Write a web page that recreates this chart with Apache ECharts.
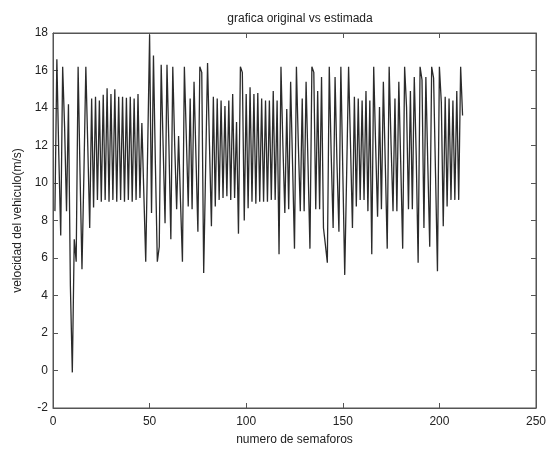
<!DOCTYPE html>
<html>
<head>
<meta charset="utf-8">
<script src="https://cdn.jsdelivr.net/npm/echarts@6/dist/echarts.min.js"></script>
<style>html,body{margin:0;padding:0;background:#fff}#c{width:549px;height:451px}</style>
</head>
<body>
<div id="c"></div>
<script>
// velocidad del vehiculo (m/s) for semaforo 1..212
var velocidad = [
  8.5, 16.6, 11.5, 7.2, 16.2, 13.0, 8.5, 14.2, 4.5, -0.1,
  7.0, 5.8, 16.2, 10.5, 5.4, 10.5, 16.2, 12.0, 7.6, 14.5,
  8.7, 14.6, 9.1, 14.4, 9.0, 14.7, 9.1, 15.05, 9.0, 14.75,
  9.1, 15.0, 9.0, 14.6, 9.1, 14.6, 9.0, 14.55, 9.1, 14.6,
  9.0, 14.5, 9.1, 14.75, 9.2, 13.2, 9.5, 5.8, 11.8, 17.9,
  8.4, 16.8, 11.0, 5.8, 6.6, 16.3, 12.0, 7.85, 16.3, 12.0,
  7.0, 16.2, 12.0, 8.6, 12.5, 9.0, 5.8, 16.2, 12.5, 8.75,
  14.5, 8.6, 15.4, 11.4, 7.4, 16.2, 15.9, 5.2, 10.8, 16.4,
  12.0, 7.7, 14.6, 8.75, 14.5, 9.1, 14.4, 9.2, 14.1, 9.3,
  14.4, 9.1, 14.75, 9.2, 13.25, 7.3, 16.2, 15.9, 8.0, 14.75,
  8.65, 15.1, 9.0, 14.75, 8.9, 14.8, 9.0, 14.5, 9.0, 14.4,
  9.0, 14.4, 9.1, 14.9, 9.1, 14.4, 6.2, 16.2, 12.0, 8.4,
  13.95, 8.6, 15.4, 11.0, 6.5, 16.2, 12.0, 8.5, 14.5, 8.5,
  15.4, 11.0, 6.5, 16.2, 15.9, 8.6, 14.9, 8.6, 15.65, 7.6,
  6.7, 5.75, 16.2, 11.5, 7.6, 15.65, 11.0, 7.4, 16.2, 16.1,
  5.1, 10.5, 16.2, 12.0, 7.6, 14.6, 8.75, 14.5, 9.1, 14.4,
  9.1, 14.9, 8.5, 14.4, 6.2, 16.2, 12.0, 8.2, 14.05, 8.6,
  15.4, 11.0, 6.5, 16.2, 12.0, 8.5, 14.5, 8.5, 15.4, 11.0,
  6.5, 16.2, 14.05, 8.6, 14.9, 8.6, 15.65, 11.5, 5.75, 16.2,
  15.5, 7.6, 15.65, 11.0, 6.6, 16.2, 15.6, 10.5, 5.3, 16.2,
  14.3, 7.7, 14.6, 8.75, 14.5, 9.1, 14.4, 9.1, 14.9, 9.1,
  16.2, 13.6
];
var semaforos = [];
for (var i = 0; i < velocidad.length; i++) semaforos.push(i + 1);
var xTicks = [0, 50, 100, 150, 200, 250];
var yTicks = [-2, 0, 2, 4, 6, 8, 10, 12, 14, 16, 18];

var titleText = 'grafica original vs estimada';
var xName = 'numero de semaforos';
var yName = 'velocidad del vehiculo(m/s)';

var seriesData = semaforos.map(function (x, i) { return [x, velocidad[i]]; });

var font = '"Liberation Sans", Arial, sans-serif';
var axisColor = '#555';
function tick() { return { show: true, inside: true, length: 5, lineStyle: { color: axisColor, width: 1 } }; }

var chart = echarts.init(document.getElementById('c'), null, { renderer: 'canvas' });
chart.setOption({
  animation: false,
  backgroundColor: '#fff',
  title: {
    text: titleText, left: 295, top: 8, textAlign: 'center',
    textStyle: { fontFamily: font, fontSize: 12, fontWeight: 'normal', color: '#222' }
  },
  grid: { left: 53, right: 11.5, top: 33, bottom: 38.5, show: true, borderColor: axisColor, borderWidth: 1, backgroundColor: 'transparent' },
  xAxis: [{
    type: 'value', min: xTicks[0], max: xTicks[xTicks.length - 1], interval: 50,
    name: xName, nameLocation: 'middle', nameGap: 26,
    nameTextStyle: { fontFamily: font, fontSize: 12, color: '#222' },
    axisLine: { show: true, onZero: false, lineStyle: { color: axisColor } },
    axisTick: tick(),
    axisLabel: { fontFamily: font, fontSize: 12, color: '#222', margin: 8 },
    splitLine: { show: false }
  }, {
    type: 'value', show: true, position: 'top', min: xTicks[0], max: xTicks[xTicks.length - 1], interval: 50,
    axisLine: { show: true, onZero: false, lineStyle: { color: axisColor } },
    axisTick: tick(), axisLabel: { show: false }, splitLine: { show: false }
  }],
  yAxis: [{
    type: 'value', min: yTicks[0], max: yTicks[yTicks.length - 1], interval: 2,
    name: yName, nameLocation: 'middle', nameGap: 28, nameRotate: 90,
    nameTextStyle: { fontFamily: font, fontSize: 12, color: '#222' },
    axisLine: { show: true, onZero: false, lineStyle: { color: axisColor } },
    axisTick: tick(),
    axisLabel: { fontFamily: font, fontSize: 12, color: '#222', margin: 5 },
    splitLine: { show: false }
  }, {
    type: 'value', show: true, position: 'right', min: yTicks[0], max: yTicks[yTicks.length - 1], interval: 2,
    axisLine: { show: true, onZero: false, lineStyle: { color: axisColor } },
    axisTick: tick(), axisLabel: { show: false }, splitLine: { show: false }
  }],
  series: [{
    type: 'line', data: seriesData, xAxisIndex: 0, yAxisIndex: 0,
    showSymbol: false, symbol: 'none', clip: true,
    lineStyle: { color: '#2b2b2b', width: 1.3 }
  }, {
    type: 'line', data: [], xAxisIndex: 1, yAxisIndex: 1, symbol: 'none'
  }]
});
</script>
</body>
</html>
